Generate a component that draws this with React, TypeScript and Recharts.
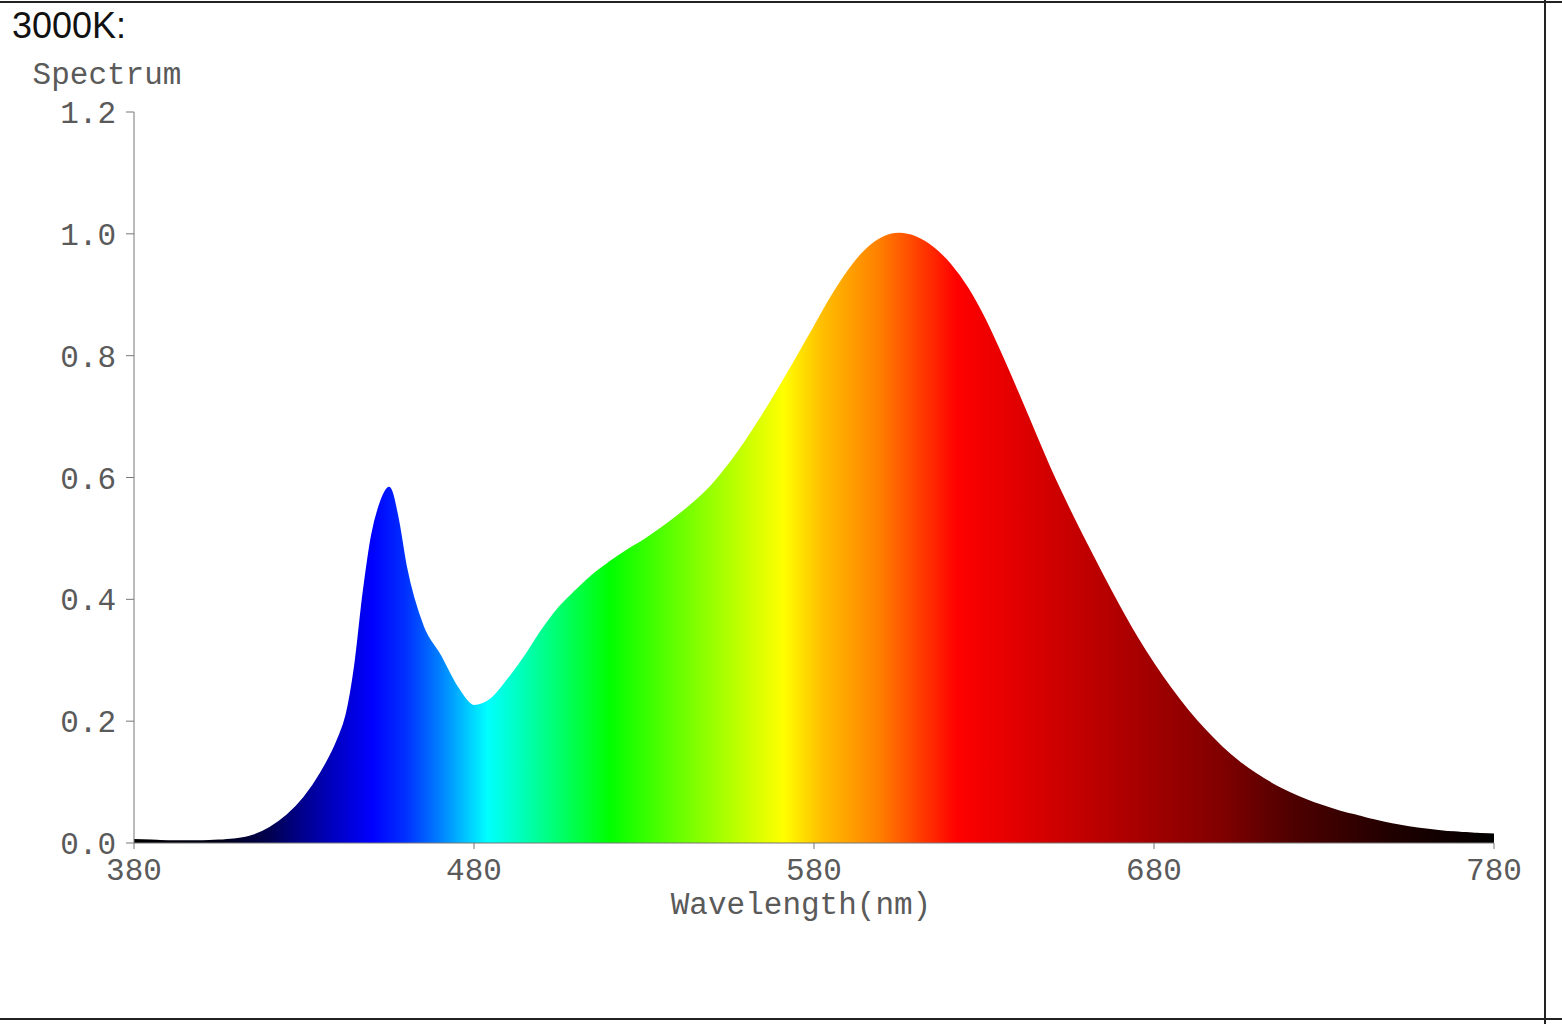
import React from 'react';
import { AreaChart, Area, XAxis, YAxis } from 'recharts';

const wavelengths: number[] = [
  380, 385, 390, 395, 400, 405, 410, 415, 420, 425, 430, 435, 440, 442.5, 445, 447.5, 450, 452.5, 455, 457.5,
  460, 465, 470, 475, 480, 485, 490, 495, 500, 505, 510, 515, 520, 525, 530, 535, 540, 545, 550, 555,
  560, 565, 570, 575, 580, 585, 590, 595, 600, 605, 610, 615, 620, 625, 630, 635, 640, 645, 650, 655,
  660, 665, 670, 675, 680, 685, 690, 695, 700, 705, 710, 715, 720, 725, 730, 735, 740, 745, 750, 755,
  760, 765, 770, 775, 780,
];

const intensity: number[] = [
  0.005, 0.004, 0.003, 0.003, 0.003, 0.004, 0.006, 0.012, 0.025, 0.045, 0.074, 0.115, 0.17, 0.21, 0.29, 0.41, 0.505, 0.558, 0.583, 0.535,
  0.453, 0.355, 0.308, 0.256, 0.225, 0.236, 0.268, 0.306, 0.349, 0.386, 0.414, 0.44, 0.461, 0.48, 0.497, 0.516, 0.537, 0.56, 0.587, 0.621,
  0.66, 0.703, 0.749, 0.797, 0.846, 0.895, 0.938, 0.972, 0.993, 1.0, 0.994, 0.977, 0.95, 0.912, 0.862, 0.802, 0.738, 0.672, 0.607, 0.548,
  0.492, 0.438, 0.386, 0.337, 0.293, 0.253, 0.217, 0.185, 0.157, 0.133, 0.113, 0.096, 0.082, 0.07, 0.06, 0.051, 0.044, 0.037, 0.031, 0.026,
  0.022, 0.019, 0.017, 0.015, 0.014,
];

const xTicks = [380, 480, 580, 680, 780];
const yTicks = [0, 0.2, 0.4, 0.6, 0.8, 1.0, 1.2];

// colour of the spectrum at a given wavelength
const spectrumStops: [number, string][] = [
  [380, '#000000'],
  [405, '#000018'],
  [420, '#000050'],
  [430, '#000090'],
  [440, '#0000c8'],
  [450, '#0000ff'],
  [460, '#0030ff'],
  [470, '#0080ff'],
  [484, '#00ffff'],
  [500, '#00ff90'],
  [520, '#00ff00'],
  [545, '#80ff00'],
  [571, '#ffff00'],
  [582, '#ffc000'],
  [599, '#ff8000'],
  [622, '#ff0000'],
  [650, '#d00000'],
  [680, '#a00000'],
  [700, '#800000'],
  [720, '#500000'],
  [750, '#200000'],
  [780, '#000000'],
];

const data = wavelengths.map((nm, i) => ({ nm, value: intensity[i] }));

const mono = '"Liberation Mono", "Courier New", monospace';
const tickStyle = { fontFamily: mono, fontSize: 31, fill: '#5a5a5a' };

const App: React.FC = () => {
  return (
    <div style={{ position: 'absolute', left: 0, top: 0, width: 1562, height: 1024, background: '#fff' }}>
      <div style={{ position: 'absolute', left: 0, top: 1, width: 1562, height: 2, background: '#222' }} />
      <div style={{ position: 'absolute', left: 0, top: 1018, width: 1562, height: 2, background: '#222' }} />
      <div style={{ position: 'absolute', left: 1544, top: 0, width: 2, height: 1024, background: '#222' }} />
      <div
        style={{
          position: 'absolute',
          left: 12,
          top: 5,
          fontFamily: '"Liberation Sans", Arial, sans-serif',
          fontSize: 36,
          color: '#111',
        }}
      >
        3000K:
      </div>
      <div style={{ position: 'absolute', left: 0, top: 0 }}>
        <AreaChart width={1562} height={1024} data={data} margin={{ top: 112, right: 68, left: 0, bottom: 81 }}>
          <defs>
            <linearGradient id="spectrumFill" x1="0" y1="0" x2="1" y2="0">
              {spectrumStops.map(([nm, color]) => (
                <stop key={nm} offset={(nm - 380) / 400} stopColor={color} />
              ))}
            </linearGradient>
          </defs>
          <XAxis
            dataKey="nm"
            type="number"
            domain={[380, 780]}
            ticks={xTicks}
            interval={0}
            stroke="#777"
            tickSize={6}
            tickMargin={9}
            tick={tickStyle}
            height={100}
            label={{
              value: 'Wavelength(nm)',
              position: 'insideBottom',
              offset: 29,
              dx: -13,
              style: { fontFamily: mono, fontSize: 31, fill: '#5a5a5a' },
            }}
          />
          <YAxis
            type="number"
            domain={[0, 1.2]}
            ticks={yTicks}
            interval={0}
            width={134}
            stroke="#777"
            tickSize={8}
            tickMargin={10}
            tick={tickStyle}
            tickFormatter={(v: number) => v.toFixed(1)}
            label={{
              value: 'Spectrum',
              position: 'top',
              offset: 28,
              dx: 40,
              style: { fontFamily: mono, fontSize: 31, fill: '#5a5a5a' },
            }}
          />
          <Area
            type="monotone"
            dataKey="value"
            fill="url(#spectrumFill)"
            fillOpacity={1}
            stroke="url(#spectrumFill)"
            strokeWidth={2}
            dot={false}
            activeDot={false}
            isAnimationActive={false}
          />
        </AreaChart>
      </div>
    </div>
  );
};

export default App;
